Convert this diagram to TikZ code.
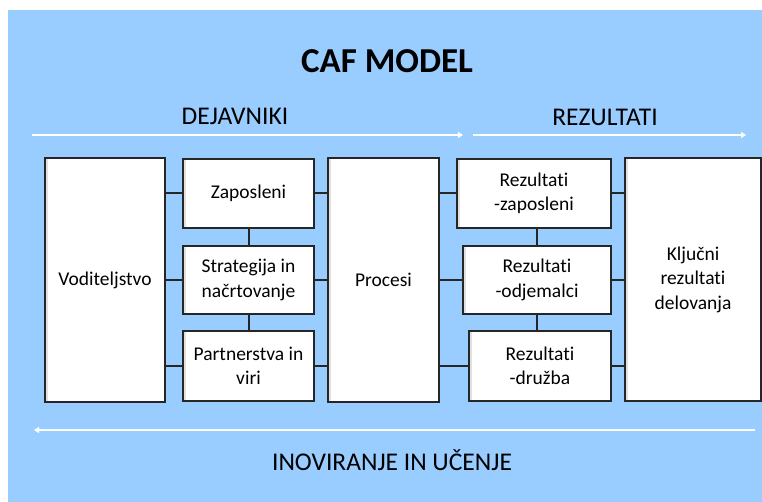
\documentclass[tikz,border=0pt]{standalone}
\usepackage{fontspec}
\setmainfont{Carlito}[Ligatures=NoCommon]
\usetikzlibrary{arrows.meta}
\definecolor{bgblue}{RGB}{153,204,255}
\tikzset{
  box/.style={draw=black!85, line width=1.5pt, fill=white, rectangle, inner sep=0pt,
    align=center, font=\fontsize{19.5}{24.5}\selectfont,
    path picture={\fill[black!12] (path picture bounding box.north west) rectangle ([xshift=3pt]path picture bounding box.south west);}},
  conn/.style={draw=black!85, line width=2pt},
  flow/.style={draw=white, line width=2pt, -{Triangle[width=6pt,length=5pt]}},
  heading/.style={font=\fontsize{25.5}{30}\selectfont, inner sep=0pt}
}
\begin{document}
\begin{tikzpicture}[x=1pt,y=-1pt]
\useasboundingbox (0,0) rectangle (762,502);
\fill[white] (0,0) rectangle (762,502);
\fill[bgblue] (8,10) rectangle (762,502);

\node[font=\fontsize{35}{40}\selectfont\bfseries, inner sep=0pt] (title) at (387,61) {CAF MODEL};
\node[heading] (dej) at (235,116) {DEJAVNIKI};
\node[heading] (rez) at (605,117) {REZULTATI};
\node[heading] (ino) at (392,460) {INOVIRANJE IN UČENJE};

\coordinate (a1s) at (32,135);
\coordinate (a1e) at (463,135);
\coordinate (a2s) at (473,135);
\coordinate (a2e) at (746,135);
\coordinate (a3s) at (755,430);
\coordinate (a3e) at (34,430);
\draw[flow] (a1s) -- (a1e);
\draw[flow] (a2s) -- (a2e);
\draw[flow] (a3s) -- (a3e);

\node[box, minimum width=120pt, minimum height=244pt] (vod) at (105,280) {Voditeljstvo};
\node[box, minimum width=131pt, minimum height=69pt] (zap) at (248.5,193.5) {Zaposleni};
\node[box, minimum width=131pt, minimum height=68pt] (str) at (248.5,280) {Strategija in\\načrtovanje};
\node[box, minimum width=131pt, minimum height=70pt] (par) at (248.5,366) {Partnerstva in\\viri};
\node[box, minimum width=111pt, minimum height=244pt] (pro) at (383.5,280) {Procesi};
\node[box, minimum width=154pt, minimum height=69pt] (rz) at (534,193.5) {Rezultati\\-zaposleni};
\node[box, minimum width=148pt, minimum height=68pt] (ro) at (537,280) {Rezultati\\-odjemalci};
\node[box, minimum width=142pt, minimum height=70pt] (rd) at (540,366) {Rezultati\\-družba};
\node[box, minimum width=136pt, minimum height=243pt] (klj) at (693,279.5) {Ključni\\rezultati\\delovanja};

\foreach \b in {zap,str,par}{
  \draw[conn] (vod.east |- \b.west) -- (\b.west);
  \draw[conn] (\b.east) -- (pro.west |- \b.east);
}
\foreach \b in {rz,ro,rd}{
  \draw[conn] (pro.east |- \b.west) -- (\b.west);
  \draw[conn] (\b.east) -- (klj.west |- \b.east);
}
\draw[conn] (zap.south) -- (str.north);
\draw[conn] (str.south) -- (par.north);
\draw[conn] (ro.north |- rz.south) -- (ro.north);
\draw[conn] (ro.south) -- (ro.south |- rd.north);
\end{tikzpicture}
\end{document}
